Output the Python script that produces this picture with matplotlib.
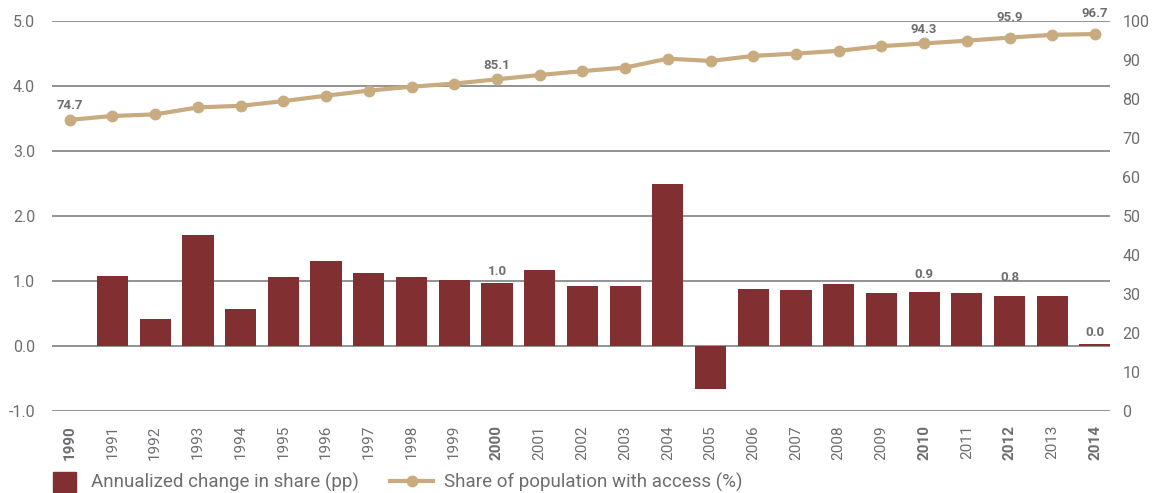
import matplotlib.pyplot as plt
import numpy as np
from matplotlib.patches import Patch
from matplotlib.lines import Line2D

years = list(range(1990, 2015))
change_pp = [np.nan, 1.08, 0.42, 1.71, 0.57, 1.06, 1.31, 1.12, 1.06, 1.02, 0.97, 1.17, 0.92,
             0.92, 2.49, -0.66, 0.88, 0.86, 0.95, 0.82, 0.83, 0.82, 0.77, 0.77, 0.03]
share_pct = [74.7, 75.7, 76.1, 77.9, 78.3, 79.5, 80.9, 82.2, 83.2, 84.0, 85.1, 86.2, 87.2,
             88.1, 90.4, 89.8, 91.1, 91.7, 92.4, 93.6, 94.3, 95.0, 95.8, 96.5, 96.7]
bold_years = [1990, 2000, 2010, 2012, 2014]
bar_labels = {2000: '1.0', 2010: '0.9', 2012: '0.8', 2014: '0.0'}
line_labels = {1990: '74.7', 2000: '85.1', 2010: '94.3', 2012: '95.9', 2014: '96.7'}

bar_col = '#822f32'
line_col = '#c9ab80'
txt_col = '#6d6e71'
plt.rcParams['font.family'] = ['Roboto', 'DejaVu Sans']

fig = plt.figure(figsize=(11.52, 4.93), dpi=100)
ax = fig.add_axes([0.045, 0.166, 0.9185, 0.791])
ax2 = ax.twinx()

ax.bar(years, change_pp, width=0.73, color=bar_col, zorder=3)
ax2.plot(years, share_pct, color=line_col, lw=3, marker='o', ms=7.5, zorder=4)

# bar value labels (lifted a bit more when the text would sit on the 1.0 line)
for y, t in bar_labels.items():
    v = change_pp[years.index(y)]
    off = 0.08 if (v > 0.9 or v < 0.5) else 0.18
    ax.text(y, max(v, 0) + off, t, ha='center', va='bottom', fontsize=9.5,
            fontweight='bold', color=txt_col, zorder=5)
# line value labels
for y, t in line_labels.items():
    v = share_pct[years.index(y)]
    off = 2.0 if v < 95 else 3.6
    ax2.text(y, v + off, t, ha='center', va='bottom', fontsize=9.5,
             fontweight='bold', color=txt_col, zorder=5, clip_on=False)

ax.set_xlim(1989.58, 2014.35)
ax.set_ylim(-1, 5)
ax.set_yticks(np.arange(-1, 5.1, 1))
ax.set_yticklabels(['%.1f' % v for v in np.arange(-1, 5.1, 1)])
ax.yaxis.grid(True, color='#8a8a8a', lw=1.3, zorder=0)
ax.set_axisbelow(True)
ax2.set_ylim(0, 100)
ax2.set_yticks(range(0, 101, 10))

ax.set_xticks(years)
ax.set_xticklabels([str(y) for y in years], rotation=90)
for lab, y in zip(ax.get_xticklabels(), years):
    if y in bold_years:
        lab.set_fontweight('bold')

ax.tick_params(axis='x', length=0, pad=10, labelsize=11, labelcolor=txt_col)
ax.tick_params(axis='y', length=0, pad=12, labelsize=11.5, labelcolor=txt_col)
ax2.tick_params(axis='y', length=0, pad=9, labelsize=11.5, labelcolor=txt_col)
for a in (ax, ax2):
    for s in a.spines.values():
        s.set_visible(False)

# two legends so the square and the line key can have different widths
leg1 = fig.legend([Patch(color=bar_col)], ['Annualized change in share (pp)'],
                  loc='center left', bbox_to_anchor=(0.046, 0.022), frameon=False,
                  fontsize=13.5, labelcolor=txt_col, handlelength=1.25, handleheight=1.25,
                  handletextpad=0.8, borderpad=0, borderaxespad=0)
leg2 = fig.legend([Line2D([], [], color=line_col, lw=3, marker='o', ms=7.5)],
                  ['Share of population with access (%)'],
                  loc='center left', bbox_to_anchor=(0.3385, 0.022), frameon=False,
                  fontsize=13.5, labelcolor=txt_col, handlelength=2.3,
                  handletextpad=0.6, borderpad=0, borderaxespad=0)

plt.savefig('out.png', dpi=100)
